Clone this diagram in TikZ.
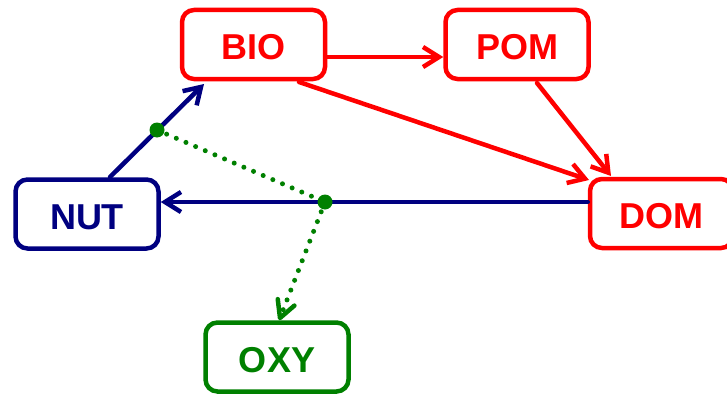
\documentclass[tikz,border=0pt]{standalone}
\usepackage{fontspec}
\setmainfont{Liberation Sans}
\usetikzlibrary{arrows.meta,calc}
\definecolor{cred}{HTML}{FF0000}
\definecolor{cnavy}{HTML}{000080}
\definecolor{cgreen}{HTML}{008000}
\begin{document}
\begin{tikzpicture}[x=1pt,y=-1pt,
  box/.style={draw, line width=4.5pt, rounded corners=12pt, minimum width=143pt, minimum height=69pt, font=\fontsize{36}{40}\selectfont\bfseries, inner sep=0pt, text height=30pt, text depth=0pt},
  tip/.style={-{Straight Barb[length=16pt,width=20pt,line width=4.5pt]}},
  conn/.style={line width=4.5pt, tip, line cap=round},
  dotline/.style={cgreen, line width=5pt, line cap=round, dash pattern=on 0pt off 10.5pt},
  blob/.style={circle, fill=cgreen, inner sep=0pt, minimum size=15pt}]
\useasboundingbox (0,0) rectangle (727,396);
\node[box, cred] (BIO) at (253.5,44.5) {BIO};
\node[box, cred] (POM) at (517,44.5) {POM};
\node[box, cnavy] (NUT) at (87,214) {NUT};
\node[box, cred] (DOM) at (661.5,213.5) {DOM};
\node[box, cgreen] (OXY) at (277,357) {OXY};
\coordinate (bioS) at (299,82);
\coordinate (pomS) at (537,83);
\coordinate (domA) at (589,180);
\coordinate (domB) at (611,176);
\coordinate (nutN) at (110,177);
\coordinate (bioB) at (204,84);
\coordinate (oxyN) at (280,318);
\draw[conn, cred] (BIO.east |- 0,57) -- (POM.west |- 0,57);
\draw[conn, cred] (bioS) -- (domA);
\draw[conn, cred] (pomS) -- (domB);
\draw[conn, cnavy] (DOM.west |- 0,202) -- (NUT.east |- 0,202);
\draw[conn, cnavy] (nutN) -- (bioB);
\node[blob] (d1) at (157,130) {};
\node[blob] (d2) at (325,202) {};
\draw[dotline] (d1.center) -- (d2.center);
\draw[dotline] (d2.center) -- (oxyN);
\draw[cgreen, line width=4.5pt, line cap=round, line join=round]
  ($(oxyN)!19pt!28:(d2.center)$) -- (oxyN) -- ($(oxyN)!19pt!-28:(d2.center)$);
\end{tikzpicture}
\end{document}
